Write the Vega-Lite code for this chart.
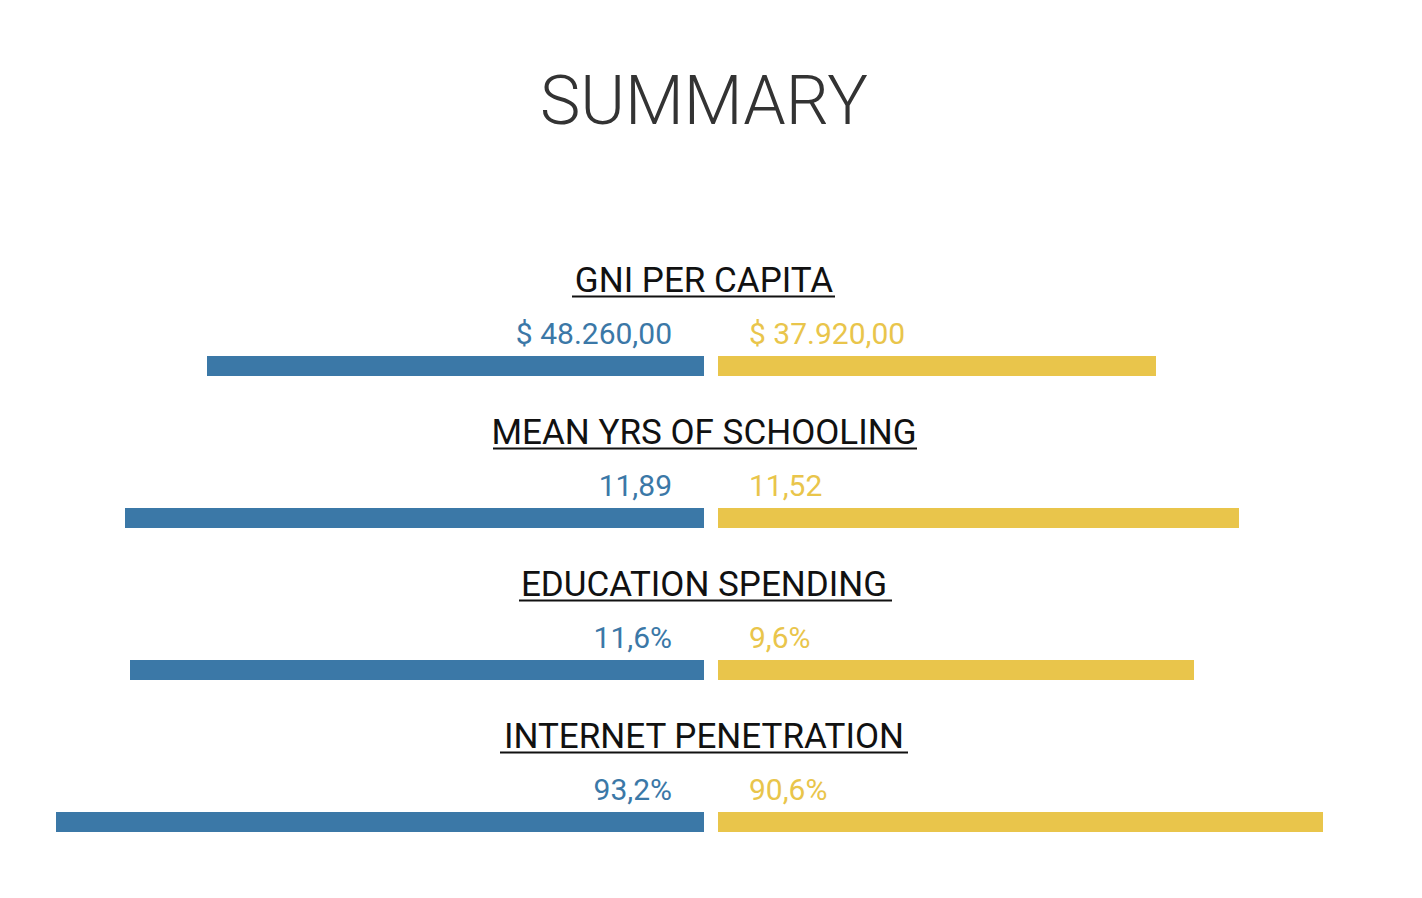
{
  "$schema": "https://vega.github.io/schema/vega-lite/v6.json",
  "width": 1422,
  "height": 698,
  "autosize": {"type": "none"},
  "padding": {"left": 0, "right": 0, "top": 200, "bottom": 0},
  "background": "#ffffff",
  "config": {"view": {"stroke": "transparent"}, "font": "Roboto"},
  "title": {
    "text": "SUMMARY",
    "font": "Roboto",
    "fontSize": 68,
    "fontWeight": 300,
    "color": "#333333",
    "anchor": "middle",
    "frame": "group",
    "baseline": "alphabetic",
    "offset": 8,
    "dx": -7
  },
  "datasets": {
    "bars": [
      {"indicator": "GNI PER CAPITA", "side": "left", "label": "$ 48.260,00", "len": -497},
      {"indicator": "GNI PER CAPITA", "side": "right", "label": "$ 37.920,00", "len": 438},
      {"indicator": "MEAN YRS OF SCHOOLING", "side": "left", "label": "11,89", "len": -579},
      {"indicator": "MEAN YRS OF SCHOOLING", "side": "right", "label": "11,52", "len": 521},
      {"indicator": "EDUCATION SPENDING", "side": "left", "label": "11,6%", "len": -574},
      {"indicator": "EDUCATION SPENDING", "side": "right", "label": "9,6%", "len": 476},
      {"indicator": "INTERNET PENETRATION", "side": "left", "label": "93,2%", "len": -648},
      {"indicator": "INTERNET PENETRATION", "side": "right", "label": "90,6%", "len": 605}
    ],
    "titles": [
      {"indicator": "GNI PER CAPITA", "ul1": -139, "ul2": 124},
      {"indicator": "MEAN YRS OF SCHOOLING", "ul1": -218, "ul2": 206},
      {"indicator": "EDUCATION SPENDING", "ul1": -192, "ul2": 181},
      {"indicator": "INTERNET PENETRATION", "ul1": -211, "ul2": 197}
    ]
  },
  "encoding": {
    "y": {
      "field": "indicator",
      "type": "nominal",
      "sort": null,
      "scale": {
        "type": "point",
        "domain": ["GNI PER CAPITA", "MEAN YRS OF SCHOOLING", "EDUCATION SPENDING", "INTERNET PENETRATION"],
        "range": [166, 622],
        "padding": 0
      },
      "axis": null
    }
  },
  "layer": [
    {
      "data": {"name": "bars"},
      "transform": [{"filter": "datum.side === 'left'"}],
      "mark": {"type": "bar", "height": 20, "xOffset": -7, "x2Offset": -7},
      "encoding": {
        "x": {"field": "len", "type": "quantitative", "scale": {"domain": [-711, 711], "nice": false, "zero": false}, "axis": null},
        "x2": {"datum": 0},
        "color": {"field": "side", "type": "nominal", "scale": {"domain": ["left", "right"], "range": ["#3b78a7", "#e9c54b"]}, "legend": null}
      }
    },
    {
      "data": {"name": "bars"},
      "transform": [{"filter": "datum.side === 'right'"}],
      "mark": {"type": "bar", "height": 20, "xOffset": 7, "x2Offset": 7},
      "encoding": {
        "x": {"field": "len", "type": "quantitative", "scale": {"domain": [-711, 711], "nice": false, "zero": false}, "axis": null},
        "x2": {"datum": 0},
        "color": {"field": "side", "type": "nominal", "scale": {"domain": ["left", "right"], "range": ["#3b78a7", "#e9c54b"]}, "legend": null}
      }
    },
    {
      "data": {"name": "bars"},
      "transform": [{"filter": "datum.side === 'left'"}],
      "mark": {"type": "text", "align": "right", "baseline": "alphabetic", "xOffset": -39, "yOffset": -22.5, "font": "Roboto", "fontSize": 30},
      "encoding": {
        "x": {"datum": 0, "type": "quantitative"},
        "text": {"field": "label"},
        "color": {"field": "side", "type": "nominal", "scale": {"domain": ["left", "right"], "range": ["#3b78a7", "#e9c54b"]}, "legend": null}
      }
    },
    {
      "data": {"name": "bars"},
      "transform": [{"filter": "datum.side === 'right'"}],
      "mark": {"type": "text", "align": "left", "baseline": "alphabetic", "xOffset": 38, "yOffset": -22.5, "font": "Roboto", "fontSize": 30},
      "encoding": {
        "x": {"datum": 0, "type": "quantitative"},
        "text": {"field": "label"},
        "color": {"field": "side", "type": "nominal", "scale": {"domain": ["left", "right"], "range": ["#3b78a7", "#e9c54b"]}, "legend": null}
      }
    },
    {
      "data": {"name": "titles"},
      "mark": {"type": "text", "align": "center", "baseline": "alphabetic", "xOffset": -7, "yOffset": -74, "font": "Roboto", "fontSize": 35, "color": "#111111"},
      "encoding": {
        "x": {"datum": 0, "type": "quantitative"},
        "text": {"field": "indicator"}
      }
    },
    {
      "data": {"name": "titles"},
      "mark": {"type": "rule", "strokeWidth": 2, "color": "#111111", "yOffset": -69.5},
      "encoding": {
        "x": {"field": "ul1", "type": "quantitative"},
        "x2": {"field": "ul2"}
      }
    }
  ]
}
